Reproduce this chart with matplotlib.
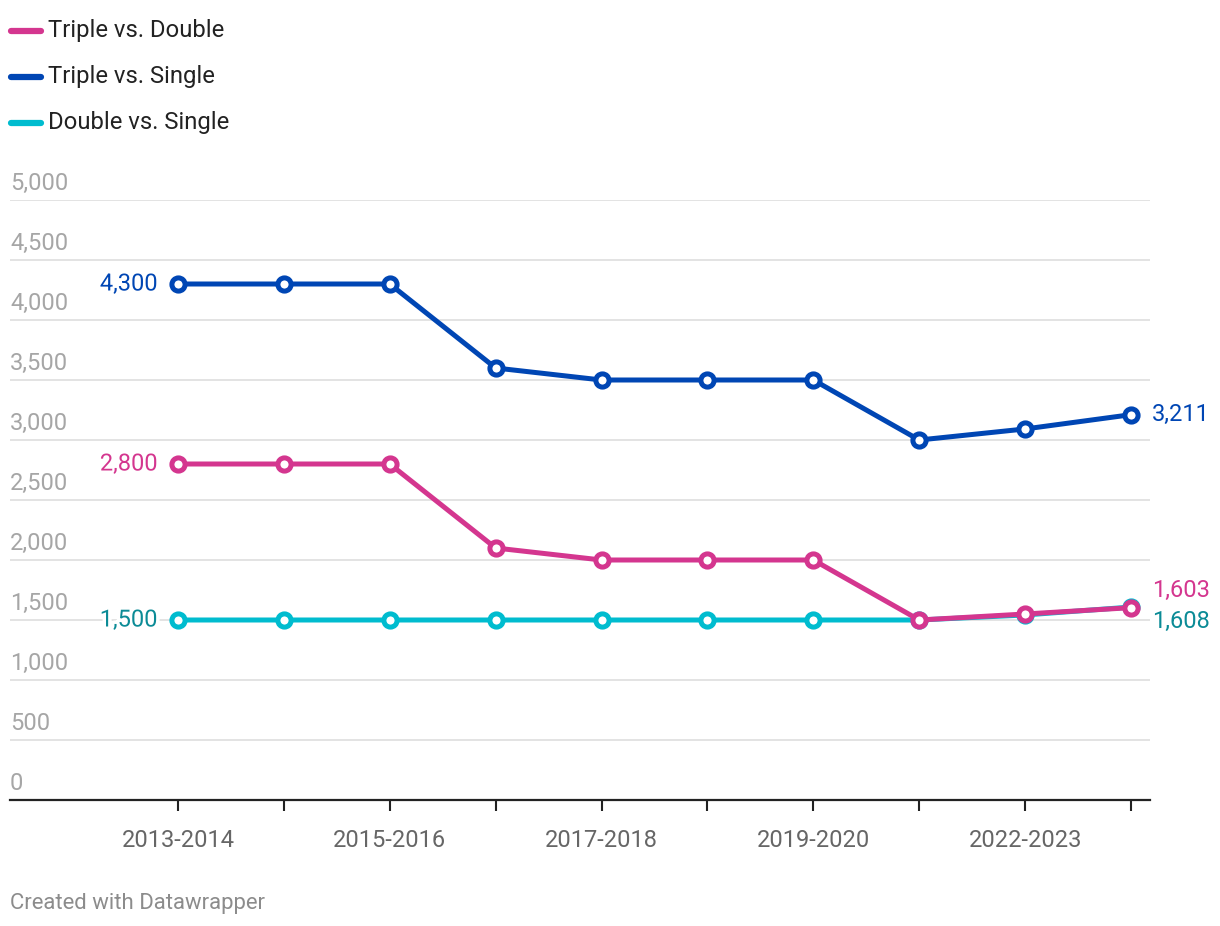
import matplotlib
matplotlib.use("Agg")
import matplotlib.pyplot as plt
import matplotlib.patheffects as pe

plt.rcParams['font.family'] = ['Roboto', 'DejaVu Sans']

# data
seasons = ["2013-2014", "2014-2015", "2015-2016", "2016-2017", "2017-2018",
           "2018-2019", "2019-2020", "2021-2022", "2022-2023", "2023-2024"]
triple_vs_double = [2800, 2800, 2800, 2100, 2000, 2000, 2000, 1500, 1550, 1603]
triple_vs_single = [4300, 4300, 4300, 3600, 3500, 3500, 3500, 3000, 3092, 3211]
double_vs_single = [1500, 1500, 1500, 1500, 1500, 1500, 1500, 1500, 1542, 1608]

pink = "#d4368f"
blue = "#0046b4"
cyan = "#00bccf"
teal_text = "#0b8b96"
fs = 17

W, H = 1220, 926
fig = plt.figure(figsize=(W / 100, H / 100), dpi=100)
ax = fig.add_axes([10 / W, (H - 800) / H, 1140 / W, 600 / H])

x = list(range(len(seasons)))
px = 105.9  # pixels per category
ax.set_xlim(-168 / px, 9 + 19 / px)
ax.set_ylim(0, 5000)

# gridlines
for v in range(500, 5001, 500):
    ax.axhline(v, color="#e1e1e1", lw=1.3, zorder=0)

series = [
    (double_vs_single, cyan, "Double vs. Single"),
    (triple_vs_double, pink, "Triple vs. Double"),
    (triple_vs_single, blue, "Triple vs. Single"),
]
for vals, col, name in series:
    ax.plot(x, vals, color=col, lw=3.6, marker="o", ms=9.5, mfc="white",
            mec=col, mew=3.6, zorder=3, solid_joinstyle="round")

halo = [pe.withStroke(linewidth=5, foreground="white")]
# value labels at start
ax.text(-0.19, triple_vs_single[0], "4,300", color=blue, fontsize=fs,
        ha="right", va="center", zorder=4, path_effects=halo)
ax.text(-0.19, triple_vs_double[0], "2,800", color=pink, fontsize=fs,
        ha="right", va="center", zorder=4, path_effects=halo)
ax.text(-0.19, double_vs_single[0], "1,500", color=teal_text, fontsize=fs,
        ha="right", va="center", zorder=4, path_effects=halo)
# value labels at end
ax.text(9.2, triple_vs_single[-1], "3,211", color=blue, fontsize=fs,
        ha="left", va="center", clip_on=False)
ax.text(9.2, triple_vs_double[-1] + 140, "1,603", color=pink, fontsize=fs,
        ha="left", va="center", clip_on=False)
ax.text(9.2, double_vs_single[-1] - 120, "1,608", color=teal_text, fontsize=fs,
        ha="left", va="center", clip_on=False)

# y labels sit above the gridlines, inside the plot
for v in range(0, 5001, 500):
    ax.text(0, v + 45, f"{v:,}", transform=ax.get_yaxis_transform(),
            color="#a6a6a6", fontsize=fs, ha="left", va="bottom")

for s in ["top", "right", "left"]:
    ax.spines[s].set_visible(False)
ax.spines["bottom"].set_color("#222222")
ax.spines["bottom"].set_linewidth(1.6)
ax.set_yticks([])
ax.set_xticks(x)
ax.set_xticklabels([s if i % 2 == 0 else "" for i, s in enumerate(seasons)])
ax.tick_params(axis="x", length=8, width=1.5, color="#222222",
               labelcolor="#666666", labelsize=fs, pad=13)

# legend drawn by hand
for i, (name, col) in enumerate([("Triple vs. Double", pink),
                                 ("Triple vs. Single", blue),
                                 ("Double vs. Single", cyan)]):
    yy = 1 - (31 + 46 * i) / H
    fig.add_artist(plt.Line2D([11 / W, 41 / W], [yy, yy], color=col,
                              lw=4.5, solid_capstyle="round"))
    fig.text(48 / W, yy + 1 / H, name, color="#222222", fontsize=17.2,
             ha="left", va="center")

fig.text(10 / W, 1 - 903 / H, "Created with Datawrapper", color="#8c8c8c",
         fontsize=15.9, ha="left", va="center")

fig.savefig("out.png", dpi=100)
